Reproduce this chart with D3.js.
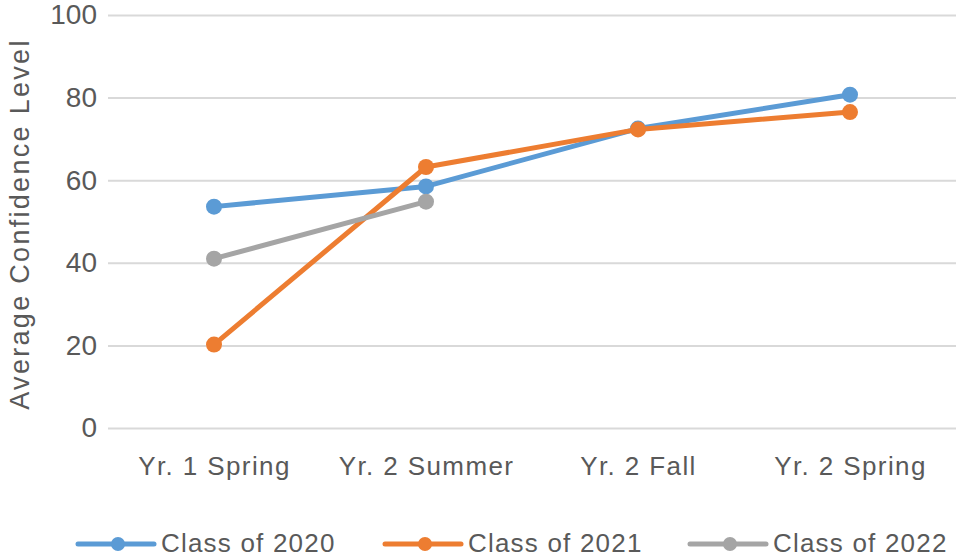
<!DOCTYPE html>
<html>
<head>
<meta charset="utf-8">
<script src="https://cdn.jsdelivr.net/npm/d3@7"></script>
<style>
  body { margin: 0; background: #fff; }
  text { font-family: "Liberation Sans", Arial, sans-serif; fill: #595959; }
</style>
</head>
<body>
<div id="chart"></div>
<script>
var terms = ['Yr. 1 Spring', 'Yr. 2 Summer', 'Yr. 2 Fall', 'Yr. 2 Spring'];
var yTicks = [0, 20, 40, 60, 80, 100];
var class2020 = [53.6, 58.5, 72.5, 80.7];
var class2021 = [20.2, 63.2, 72.3, 76.5];
var class2022 = [41.0, 54.8];

var series = [
  { name: 'Class of 2020', color: '#5b9bd5', values: class2020 },
  { name: 'Class of 2021', color: '#ed7d31', values: class2021 },
  { name: 'Class of 2022', color: '#a5a5a5', values: class2022 }
];

var width = 956, height = 557;

var svg = d3.select('#chart').append('svg')
  .attr('width', width)
  .attr('height', height);

var x = d3.scalePoint().domain(terms).range([108, 956]).padding(0.5);
var y = d3.scaleLinear().domain([0, 100]).range([428, 15]);

// gridlines + y labels
var yAxis = svg.append('g')
  .attr('transform', 'translate(108,0)')
  .call(d3.axisLeft(y).tickValues(yTicks).tickSize(-848).tickPadding(11));
yAxis.select('.domain').remove();
yAxis.selectAll('line').attr('stroke', '#d9d9d9').attr('stroke-width', 2);
yAxis.selectAll('text')
  .attr('fill', '#595959')
  .style('font-size', '28px')
  .style('font-family', '"Liberation Sans", Arial, sans-serif');

// x labels
var xAxis = svg.append('g')
  .attr('transform', 'translate(0,428)')
  .call(d3.axisBottom(x).tickSize(0).tickPadding(0));
xAxis.select('.domain').remove();
xAxis.selectAll('text')
  .attr('dy', null)
  .attr('y', 47)
  .attr('fill', '#595959')
  .style('font-size', '26px')
  .style('letter-spacing', '1.4px')
  .style('font-family', '"Liberation Sans", Arial, sans-serif');

// y title
svg.append('text')
  .attr('transform', 'translate(29,224) rotate(-90)')
  .attr('text-anchor', 'middle')
  .style('font-size', '27px')
  .style('letter-spacing', '2.3px')
  .text('Average Confidence Level');

var line = d3.line()
  .x(function(d, i) { return x(terms[i]); })
  .y(function(d) { return y(d); });

var lines = svg.append('g');
series.forEach(function(s) {
  var g = lines.append('g');
  g.append('path')
    .attr('d', line(s.values))
    .attr('fill', 'none')
    .attr('stroke', s.color)
    .attr('stroke-width', 5)
    .attr('stroke-linejoin', 'round');
  g.selectAll('circle').data(s.values)
    .enter().append('circle')
    .attr('cx', function(d, i) { return x(terms[i]); })
    .attr('cy', function(d) { return y(d); })
    .attr('r', 8)
    .attr('fill', s.color);
});

// legend
var legendX = [78, 385, 690];
var legend = svg.append('g').attr('transform', 'translate(0,544)');
series.forEach(function(s, i) {
  var g = legend.append('g').attr('transform', 'translate(' + legendX[i] + ',0)');
  g.append('line')
    .attr('x1', 0).attr('x2', 76)
    .attr('stroke', s.color)
    .attr('stroke-width', 5)
    .attr('stroke-linecap', 'round');
  g.append('circle').attr('cx', 40).attr('r', 7).attr('fill', s.color);
  g.append('text')
    .attr('x', 83)
    .attr('y', 8)
    .style('font-size', '26px')
    .style('letter-spacing', '1.2px')
    .text(s.name);
});
</script>
</body>
</html>
